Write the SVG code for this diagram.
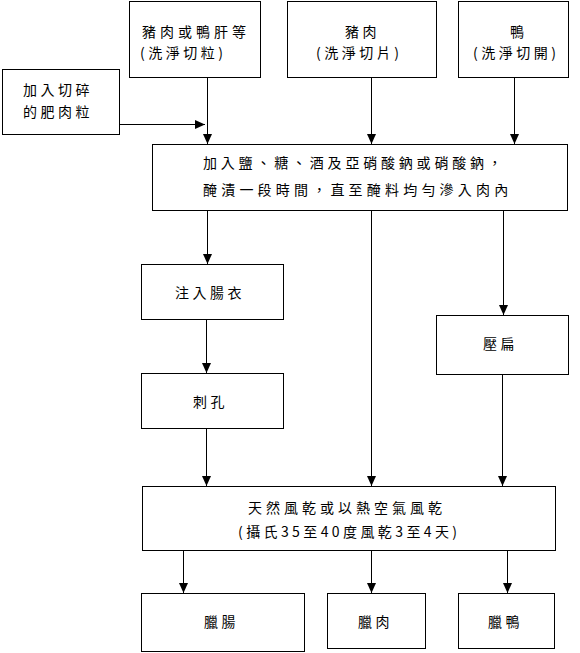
<svg xmlns="http://www.w3.org/2000/svg" width="580" height="653" viewBox="0 0 580 653">
<style>
.box{fill:#fff;stroke:#000;stroke-width:1}
.t{font-family:"Noto Sans CJK TC","Noto Sans CJK SC",sans-serif;font-size:14px;fill:#000;letter-spacing:3.5px}
.c line{stroke:#000;stroke-width:1;marker-end:url(#ah)}
</style>
<defs>
<marker id="ah" markerUnits="userSpaceOnUse" markerWidth="10" markerHeight="10" refX="10" refY="5" orient="auto">
<path d="M0,0.5 L10,5 L0,9.5 Z" fill="#000"/>
</marker>
</defs>
<rect width="580" height="653" fill="#fff"/>
<g id="n1"><rect class="box" x="129.5" y="1.5" width="131" height="76"/>
<text class="t" x="142" y="37" style="letter-spacing:4px">豬肉或鴨肝等</text>
<text class="t" x="140" y="58">(洗淨切粒)</text></g>
<g id="n2"><rect class="box" x="2.5" y="69.5" width="117" height="65"/>
<text class="t" x="23" y="95">加入切碎</text>
<text class="t" x="23" y="117">的肥肉粒</text></g>
<g id="n3"><rect class="box" x="287.5" y="1.5" width="149" height="76"/>
<text class="t" x="345" y="37">豬肉</text>
<text class="t" x="316" y="58">(洗淨切片)</text></g>
<g id="n4"><rect class="box" x="458.5" y="1.5" width="110" height="76"/>
<text class="t" x="510" y="37">鴨</text>
<text class="t" x="473" y="58">(洗淨切開)</text></g>
<g id="n5"><rect class="box" x="152.5" y="144.5" width="415" height="66"/>
<text class="t" x="203" y="168" style="letter-spacing:3.8px">加入鹽、糖、酒及亞硝酸鈉或硝酸鈉，</text>
<text class="t" x="203" y="195" style="letter-spacing:4.2px">醃漬一段時間，直至醃料均勻滲入肉內</text></g>
<g id="n6"><rect class="box" x="141.5" y="264.5" width="142" height="55"/>
<text class="t" x="175" y="298">注入腸衣</text></g>
<g id="n7"><rect class="box" x="141.5" y="373.5" width="142" height="55"/>
<text class="t" x="193" y="407">刺孔</text></g>
<g id="n8"><rect class="box" x="436.5" y="315.5" width="132" height="59"/>
<text class="t" x="483" y="349">壓扁</text></g>
<g id="n9"><rect class="box" x="142.5" y="486.5" width="413" height="64"/>
<text class="t" x="248" y="513" style="letter-spacing:4px">天然風乾或以熱空氣風乾</text>
<text class="t" x="238" y="537" style="letter-spacing:3.4px">(攝氏35至40度風乾3至4天)</text></g>
<g id="n10"><rect class="box" x="141.5" y="593.5" width="163" height="58"/>
<text class="t" x="204" y="627">臘腸</text></g>
<g id="n11"><rect class="box" x="327.5" y="593.5" width="98" height="55"/>
<text class="t" x="358" y="627">臘肉</text></g>
<g id="n12"><rect class="box" x="458.5" y="593.5" width="96" height="55"/>
<text class="t" x="488" y="627">臘鴨</text></g>
<g id="connectors" class="c">
<line x1="207.5" y1="78" x2="207.5" y2="144"/>
<line x1="120" y1="124.5" x2="205" y2="124.5"/>
<line x1="371.5" y1="78" x2="371.5" y2="144"/>
<line x1="514.5" y1="78" x2="514.5" y2="144"/>
<line x1="207.5" y1="211" x2="207.5" y2="264"/>
<line x1="371.5" y1="211" x2="371.5" y2="486"/>
<line x1="503.5" y1="211" x2="503.5" y2="315"/>
<line x1="206.5" y1="320" x2="206.5" y2="373"/>
<line x1="206.5" y1="429" x2="206.5" y2="486"/>
<line x1="502.5" y1="375" x2="502.5" y2="486"/>
<line x1="183.5" y1="551" x2="183.5" y2="593"/>
<line x1="371.5" y1="551" x2="371.5" y2="593"/>
<line x1="507.5" y1="551" x2="507.5" y2="593"/>
</g>
</svg>
